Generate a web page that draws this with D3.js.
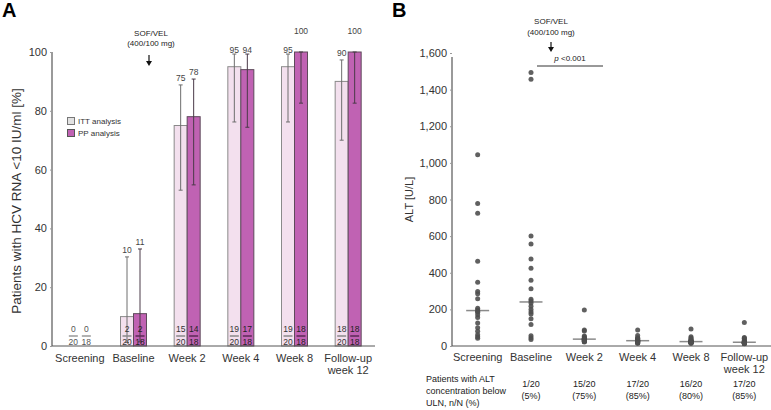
<!DOCTYPE html>
<html><head><meta charset="utf-8">
<script src="https://cdn.jsdelivr.net/npm/d3@7"></script>
<style>
body{margin:0;background:#fff;}
svg{font-family:Arial,"Liberation Sans",sans-serif;display:block;}
</style></head>
<body>
<svg id="c" width="771" height="410"></svg>
<script>
// ---------- Data ----------
const categories = ["Screening","Baseline","Week 2","Week 4","Week 8","Follow-up week 12"];
// Panel A: % patients with HCV RNA <10 IU/ml
const ittValues = [0, 10, 75, 95, 95, 90];
const ppValues  = [0, 11, 78, 94, 100, 100];
const ittLow  = [null, 1.2, 53, 76.2, 76.2, 70];
const ittHigh = [null, 30.3, 88.8, 99.3, 99.3, 97.3];
const ppLow   = [null, 1.4, 54.8, 74.4, 82.6, 82.6];
const ppHigh  = [null, 33, 90.8, 99.3, 100, 100];
const ittN = [0, 2, 15, 19, 19, 18];
const ittD = [20, 20, 20, 20, 20, 20];
const ppN  = [0, 2, 14, 17, 18, 18];
const ppD  = [18, 18, 18, 18, 18, 18];
const ticksA = [0, 20, 40, 60, 80, 100];
// Panel B: ALT [U/L] per patient
const altScreening = [1044, 778, 725, 463, 348, 297, 286, 258, 206, 197, 190, 184, 170, 155, 126, 100, 80, 62, 50, 42];
const altBaseline  = [1493, 1457, 601, 557, 475, 424, 359, 313, 255, 246, 235, 217, 200, 186, 175, 149, 118, 56, 45, 35];
const altWeek2     = [197, 87, 82, 55, 50, 45, 42, 40, 38, 38, 37, 35, 33, 30, 30, 28, 27, 25, 24, 22];
const altWeek4     = [87, 58, 45, 42, 40, 36, 33, 31, 30, 29, 29, 28, 26, 25, 24, 22, 20, 18, 16, 15];
const altWeek8     = [93, 51, 44, 38, 34, 30, 28, 26, 25, 24, 24, 23, 22, 21, 20, 19, 18, 17, 16, 15];
const altFollowUp  = [129, 47, 42, 38, 30, 27, 25, 24, 22, 21, 20, 19, 18, 17, 16, 15, 15, 14, 13, 12];
const ticksB = [0, 200, 400, 600, 800, 1000, 1200, 1400, 1600];
const belowULN = [null, "1/20", "15/20", "17/20", "16/20", "17/20"];
const belowULNpct = [null, "(5%)", "(75%)", "(85%)", "(80%)", "(85%)"];

const svg = d3.select("#c");
const C_ITT = "#f3e0ee", C_ITT_S = "#8a8a8a";
const C_PP = "#c062b3", C_PP_S = "#5e4a5b";
const AX = "#9a9a9a";

function catLabel(g, x, cats, yTop){
  cats.forEach(c=>{
    const parts = c === "Follow-up week 12" ? ["Follow-up","week 12"] : [c];
    parts.forEach((p,i)=>{
      g.append("text").attr("x", x(c)+x.bandwidth()/2).attr("y", yTop + i*12)
        .attr("text-anchor","middle").attr("font-size",11).attr("fill","#333").text(p);
    });
  });
}

// ---------- Panel A ----------
{
  const x = d3.scaleBand().domain(categories).range([53, 375]);
  const y = d3.scaleLinear().domain([0,100]).range([346, 52]);
  const g = svg.append("g");
  const bw = 13;

  g.append("text").attr("x",2).attr("y",17).attr("font-size",20).attr("font-weight","bold").text("A");

  const ya = g.append("g").attr("transform","translate(52,0)")
    .call(d3.axisLeft(y).tickValues(ticksA).tickSize(2).tickPadding(3));
  ya.select(".domain").attr("stroke",AX).attr("stroke-width",2).attr("d","M0,"+y(0)+"V"+y(100));
  ya.selectAll(".tick line").attr("stroke",AX);
  ya.selectAll(".tick text").attr("font-size",11).attr("fill","#333").attr("font-family","Arial,'Liberation Sans',sans-serif");

  g.append("text").attr("transform","translate(21,"+(y(50)+2)+") rotate(-90)")
    .attr("text-anchor","middle").attr("font-size",13.5).attr("fill","#333")
    .text("Patients with HCV RNA <10 IU/ml [%]");

  const rows = categories.map((c,i)=>({c,i}));
  rows.forEach(({c,i})=>{
    const cx = x(c)+x.bandwidth()/2;
    if (ittValues[i] > 0) g.append("rect").attr("x",cx-bw).attr("y",y(ittValues[i])).attr("width",bw)
      .attr("height",y(0)-y(ittValues[i])).attr("fill",C_ITT).attr("stroke",C_ITT_S).attr("stroke-width",1);
    if (ppValues[i] > 0) g.append("rect").attr("x",cx).attr("y",y(ppValues[i])).attr("width",bw)
      .attr("height",y(0)-y(ppValues[i])).attr("fill",C_PP).attr("stroke",C_PP_S).attr("stroke-width",1);
  });
  function err(cx, lo, hi, col){
    if (lo == null) return;
    g.append("line").attr("x1",cx).attr("x2",cx).attr("y1",y(lo)).attr("y2",y(hi)).attr("stroke",col).attr("stroke-width",1);
    [lo,hi].forEach(v=>g.append("line").attr("x1",cx-2).attr("x2",cx+2).attr("y1",y(v)).attr("y2",y(v)).attr("stroke",col).attr("stroke-width",1));
  }
  rows.forEach(({c,i})=>{
    const cx = x(c)+x.bandwidth()/2;
    err(cx-bw/2, ittLow[i], ittHigh[i], "#6e6e6e");
    err(cx+bw/2, ppLow[i], ppHigh[i], "#4a3a48");
  });
  function vlab(cx, v, hi){
    const top = y(hi);
    let yy;
    if (hi >= 99.95) yy = top - 18;
    else if (hi >= 99) yy = top - 1.5;
    else yy = top - 4;
    g.append("text").attr("x",cx).attr("y",yy).attr("text-anchor","middle").attr("font-size",8.5).attr("fill","#444").text(v);
  }
  rows.forEach(({c,i})=>{
    const cx = x(c)+x.bandwidth()/2;
    if (i > 0) { vlab(cx-bw/2, ittValues[i], ittHigh[i]); vlab(cx+bw/2, ppValues[i], ppHigh[i]); }
  });
  function frac(cx, n, d, lineCol, txtCol){
    g.append("text").attr("x",cx).attr("y",332).attr("text-anchor","middle").attr("font-size",8.5).attr("fill",txtCol).text(n);
    g.append("line").attr("x1",cx-4.5).attr("x2",cx+4.5).attr("y1",336).attr("y2",336).attr("stroke",lineCol).attr("stroke-width",1.5);
    g.append("text").attr("x",cx).attr("y",344.5).attr("text-anchor","middle").attr("font-size",8.5).attr("fill",txtCol).text(d);
  }
  rows.forEach(({c,i})=>{
    const cx = x(c)+x.bandwidth()/2;
    if (i === 0) {
      frac(cx-bw/2, ittN[i], ittD[i], "#999", "#555");
      frac(cx+bw/2, ppN[i], ppD[i], "#999", "#555");
    } else {
      frac(cx-bw/2, ittN[i], ittD[i], "#888", "#333");
      frac(cx+bw/2, ppN[i], ppD[i], "#5a2a55", "#222");
    }
  });
  g.append("line").attr("x1",52).attr("x2",375).attr("y1",y(0)).attr("y2",y(0)).attr("stroke","#555").attr("stroke-width",1);
  catLabel(g, x, categories, 362);

  g.append("rect").attr("x",67.5).attr("y",117.5).attr("width",7).attr("height",7).attr("fill","#e2e2e2").attr("stroke","#777");
  g.append("rect").attr("x",67.5).attr("y",129.5).attr("width",7).attr("height",7).attr("fill",C_PP).attr("stroke","#555");
  g.append("text").attr("x",78).attr("y",124).attr("font-size",8).attr("fill","#333").text("ITT analysis");
  g.append("text").attr("x",78).attr("y",136).attr("font-size",8).attr("fill","#333").text("PP analysis");

  g.append("text").attr("x",151).attr("y",36).attr("text-anchor","middle").attr("font-size",8).attr("fill","#222").text("SOF/VEL");
  g.append("text").attr("x",151).attr("y",46).attr("text-anchor","middle").attr("font-size",8).attr("fill","#222").text("(400/100 mg)");
  g.append("line").attr("x1",149).attr("x2",149).attr("y1",55).attr("y2",62).attr("stroke","#111").attr("stroke-width",1.2);
  g.append("path").attr("d","M146,61L152,61L149,66Z").attr("fill","#111");
}

// ---------- Panel B ----------
{
  const x = d3.scaleBand().domain(categories).range([451, 771]);
  const y = d3.scaleLinear().domain([0,1600]).range([346, 53]);
  const g = svg.append("g");
  const series = [altScreening, altBaseline, altWeek2, altWeek4, altWeek8, altFollowUp];

  g.append("text").attr("x",392).attr("y",17).attr("font-size",20).attr("font-weight","bold").text("B");

  const ya = g.append("g").attr("transform","translate(452,0)")
    .call(d3.axisLeft(y).tickValues(ticksB).tickFormat(d3.format(",")).tickSize(2).tickPadding(3));
  ya.select(".domain").attr("stroke",AX).attr("stroke-width",2).attr("d","M0,"+y(0)+"V"+(y(1600)+4));
  ya.selectAll(".tick line").attr("stroke",AX);
  ya.selectAll(".tick text").attr("font-size",11).attr("fill","#333").attr("font-family","Arial,'Liberation Sans',sans-serif");

  g.append("text").attr("transform","translate(413,"+y(800)+") rotate(-90)")
    .attr("text-anchor","middle").attr("font-size",11).attr("fill","#333").text("ALT [U/L]");

  g.append("line").attr("x1",452).attr("x2",771).attr("y1",y(0)).attr("y2",y(0)).attr("stroke","#555").attr("stroke-width",1);

  series.forEach((vals,i)=>{
    const cx = x(categories[i]) + x.bandwidth()/2;
    const med = d3.median(vals);
    g.append("line").attr("x1",cx-11.5).attr("x2",cx+11.5).attr("y1",y(med)).attr("y2",y(med)).attr("stroke","#8a8a8a").attr("stroke-width",1.5);
    g.selectAll(null).data(vals).enter().append("circle")
      .attr("cx",cx).attr("cy",d=>y(d)).attr("r",2.5).attr("fill","#4f4f4f").attr("fill-opacity",0.9);
  });

  catLabel(g, x, categories, 361);

  const x1 = x("Baseline")+x.bandwidth()/2+6, x2 = x("Week 4")-8;
  g.append("line").attr("x1",x1).attr("x2",x2).attr("y1",66).attr("y2",66).attr("stroke","#333").attr("stroke-width",1);
  const pt = g.append("text").attr("x",(x1+x2)/2).attr("y",61).attr("text-anchor","middle").attr("font-size",8).attr("fill","#222");
  pt.append("tspan").attr("font-style","italic").text("p");
  pt.append("tspan").text(" <0.001");

  g.append("text").attr("x",551).attr("y",24).attr("text-anchor","middle").attr("font-size",8).attr("fill","#222").text("SOF/VEL");
  g.append("text").attr("x",551).attr("y",35).attr("text-anchor","middle").attr("font-size",8).attr("fill","#222").text("(400/100 mg)");
  g.append("line").attr("x1",551).attr("x2",551).attr("y1",42).attr("y2",48).attr("stroke","#111").attr("stroke-width",1.2);
  g.append("path").attr("d","M548,47L554,47L551,52Z").attr("fill","#111");

  const tl = ["Patients with ALT","concentration below","ULN, n/N (%)"];
  tl.forEach((t,i)=>g.append("text").attr("x",426).attr("y",382+i*12).attr("font-size",9).attr("fill","#222").text(t));
  categories.forEach((c,i)=>{
    if (belowULN[i] == null) return;
    const cx = x(c)+x.bandwidth()/2;
    g.append("text").attr("x",cx).attr("y",387).attr("text-anchor","middle").attr("font-size",9).attr("fill","#222").text(belowULN[i]);
    g.append("text").attr("x",cx).attr("y",399).attr("text-anchor","middle").attr("font-size",9).attr("fill","#222").text(belowULNpct[i]);
  });
}
</script>
</body></html>
